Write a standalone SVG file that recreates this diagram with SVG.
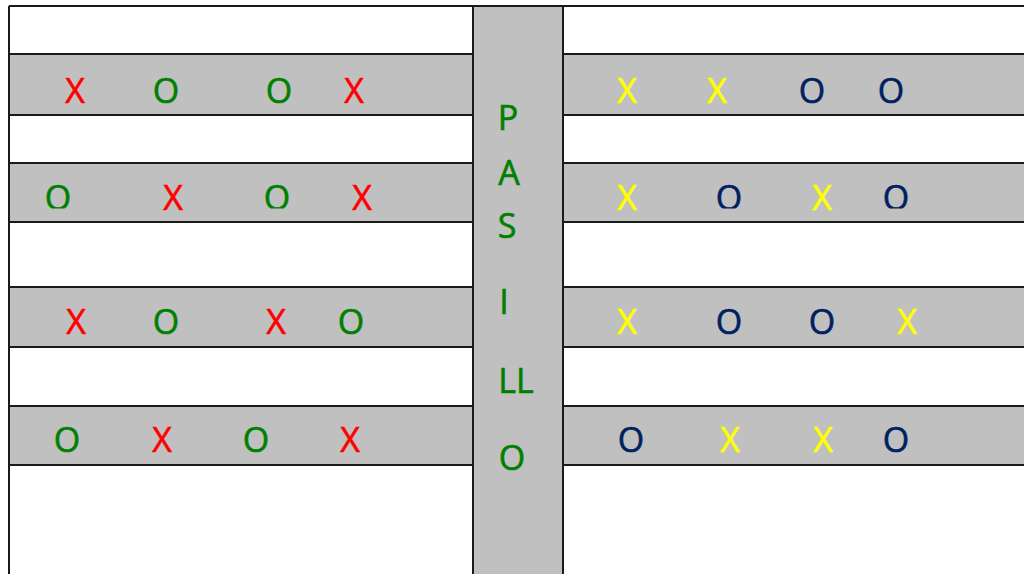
<svg xmlns="http://www.w3.org/2000/svg" width="1024" height="574" viewBox="0 0 1024 574">
<style>
.band{fill:#c0c0c0}
.ln{stroke:#1a1a1a;stroke-width:2;fill:none}
text{font-family:"Open Sans","Liberation Sans",sans-serif;font-size:34px;text-anchor:middle;stroke-width:0.6}
.r{fill:#ff0000;stroke:#ff0000}.g{fill:#008000;stroke:#008000}.y{fill:#ffff00;stroke:#ffff00}.b{fill:#002060;stroke:#002060}
</style>
<defs>
<clipPath id="cut2"><rect x="0" y="150" width="1024" height="58.5"/></clipPath>
</defs>
<rect width="1024" height="574" fill="#ffffff"/>
<g id="bands">
<g id="row1"><rect class="band" x="9" y="54" width="464" height="61"/><rect class="band" x="563" y="54" width="461" height="61"/>
<path class="ln" d="M9 54H473M9 115H473M563 54H1024M563 115H1024"/></g>
<g id="row2"><rect class="band" x="9" y="163" width="464" height="59"/><rect class="band" x="563" y="163" width="461" height="59"/>
<path class="ln" d="M9 163H473M9 222H473M563 163H1024M563 222H1024"/></g>
<g id="row3"><rect class="band" x="9" y="287" width="464" height="60"/><rect class="band" x="563" y="287" width="461" height="60"/>
<path class="ln" d="M9 287H473M9 347H473M563 287H1024M563 347H1024"/></g>
<g id="row4"><rect class="band" x="9" y="406" width="464" height="59"/><rect class="band" x="563" y="406" width="461" height="59"/>
<path class="ln" d="M9 406H473M9 465H473M563 406H1024M563 465H1024"/></g>
</g>
<g id="pasillo">
<rect class="band" x="473" y="6" width="90" height="570"/>
<path class="ln" d="M473 6V574M563 6V574"/>
<text class="g" x="508" y="130">P</text>
<text class="g" x="509" y="185">A</text>
<text class="g" x="507" y="238">S</text>
<text class="g" x="504" y="314">I</text>
<text class="g" x="516" y="393">LL</text>
<text class="g" x="512" y="470">O</text>
</g>
<g id="frame"><path class="ln" d="M9 6H1024M9 6V574"/></g>
<g id="marks-left">
<text class="r" x="75" y="103">X</text><text class="g" x="166" y="103">O</text><text class="g" x="279" y="103">O</text><text class="r" x="354" y="103">X</text>
<g clip-path="url(#cut2)"><text class="g" x="58" y="210">O</text><text class="g" x="277" y="210">O</text></g>
<text class="r" x="173" y="210">X</text><text class="r" x="362" y="210">X</text>
<text class="r" x="76" y="334">X</text><text class="g" x="166" y="334">O</text><text class="r" x="276" y="334">X</text><text class="g" x="351" y="334">O</text>
<text class="g" x="67" y="452">O</text><text class="r" x="162" y="452">X</text><text class="g" x="256" y="452">O</text><text class="r" x="350" y="452">X</text>
</g>
<g id="marks-right">
<text class="y" x="627" y="103">X</text><text class="y" x="717" y="103">X</text><text class="b" x="812" y="103">O</text><text class="b" x="891" y="103">O</text>
<text class="y" x="627" y="210">X</text><g clip-path="url(#cut2)"><text class="b" x="729" y="210">O</text><text class="b" x="896" y="210">O</text></g><text class="y" x="822" y="210">X</text>
<text class="y" x="627" y="334">X</text><text class="b" x="729" y="334">O</text><text class="b" x="822" y="334">O</text><text class="y" x="907" y="334">X</text>
<text class="b" x="631" y="452">O</text><text class="y" x="730" y="452">X</text><text class="y" x="823" y="452">X</text><text class="b" x="896" y="452">O</text>
</g>
</svg>
